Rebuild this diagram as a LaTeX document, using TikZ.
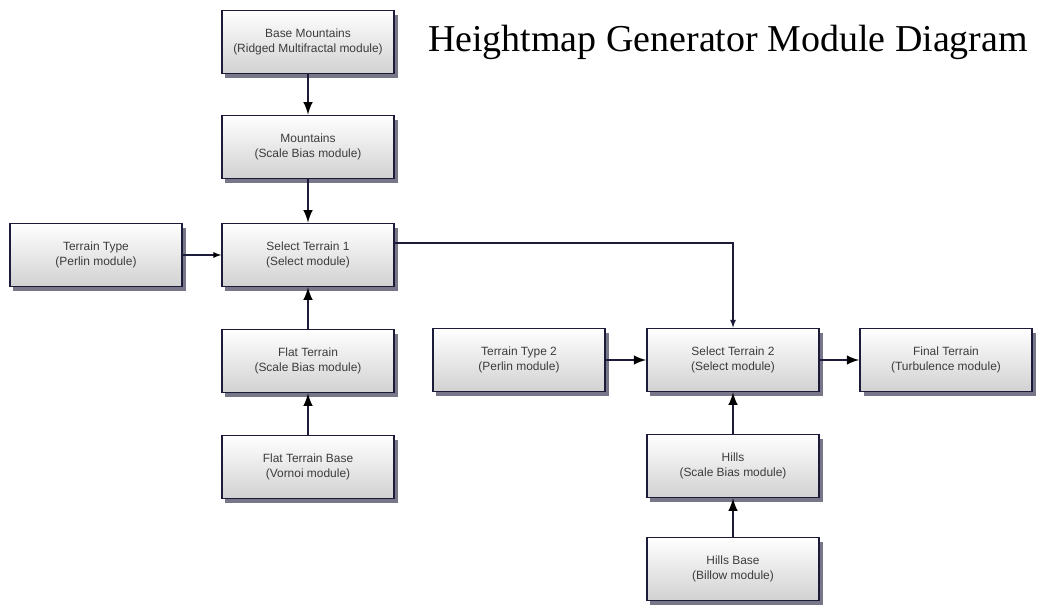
\documentclass[tikz,border=0pt]{standalone}
\usepackage{fontspec}
\setsansfont{Liberation Sans}
\newfontfamily\titlefont{Liberation Serif}
\usetikzlibrary{arrows,shadows}
\definecolor{navy}{RGB}{28,28,58}
\definecolor{txtgray}{RGB}{60,60,60}

\tikzset{
  modbox/.style={draw=navy, line width=1.1pt, top color=white, bottom color=black!18,
    minimum width=4.3cm, minimum height=1.58cm, align=center,
    font=\sffamily\fontsize{8.5}{10.5}\selectfont, text=txtgray,
    drop shadow={shadow xshift=2.5pt, shadow yshift=-3pt, opacity=0.6, fill=navy}},
  link/.style={->, >=latex, draw=navy, line width=2pt},
  thinlink/.style={->, >=latex, draw=navy, line width=0.9pt}
}

\begin{document}
\begin{tikzpicture}[x=0.025cm,y=-0.025cm]
\useasboundingbox (0,0) rectangle (1041,605);

\node[modbox] (BM) at (308,42) {Base Mountains\\(Ridged Multifractal module)};
\node[modbox] (M) at (308,147) {Mountains\\(Scale Bias module)};
\node[modbox] (TT) at (96,255) {Terrain Type\\(Perlin module)};
\node[modbox] (ST1) at (308,255) {Select Terrain 1\\(Select module)};
\node[modbox] (FT) at (308,361) {Flat Terrain\\(Scale Bias module)};
\node[modbox] (FTB) at (308,467) {Flat Terrain Base\\(Vornoi module)};

\node[modbox] (TT2) at (519,360) {Terrain Type 2\\(Perlin module)};
\node[modbox] (ST2) at (733,360) {Select Terrain 2\\(Select module)};
\node[modbox] (FIN) at (946,360) {Final Terrain\\(Turbulence module)};
\node[modbox] (H) at (733,466) {Hills\\(Scale Bias module)};
\node[modbox] (HB) at (733,569) {Hills Base\\(Billow module)};

\node[font=\titlefont\fontsize{27}{30}\selectfont, anchor=center] (T) at (728,42) {Heightmap Generator Module Diagram};

\coordinate (K) at (733,243);

\path[link] (BM) edge (M);
\path[link] (M) edge (ST1);
\path[link] (FT) edge (ST1);
\path[link] (FTB) edge (FT);
\path[thinlink] (TT) edge (ST1);
\path[link] (TT2) edge (ST2);
\path[link] (ST2) edge (FIN);
\path[link] (H) edge (ST2);
\path[link] (HB) edge (H);
\draw[thinlink] (ST1.east |- K) -| (ST2.north);
\end{tikzpicture}
\end{document}
